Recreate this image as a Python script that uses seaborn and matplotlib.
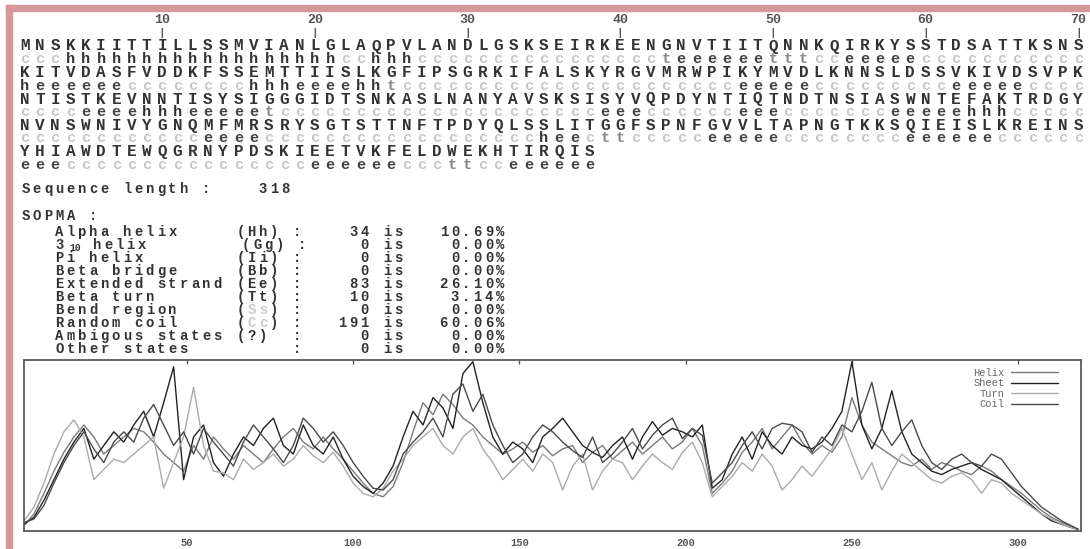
import matplotlib
matplotlib.use("Agg")
import numpy as np
import pandas as pd
import matplotlib.pyplot as plt
import seaborn as sns
from matplotlib.lines import Line2D
from matplotlib.patches import Rectangle

W, H = 1090, 549

# ---sequence and predicted states (SOPMA output)---
seq_rows = [
    "MNSKKIITTILLSSMVIANLGLAQPVLANDLGSKSEIRKEENGNVTIITQNNKQIRKYSSTDSATTKSNS",
    "KITVDASFVDDKFSSEMTTIISLKGFIPSGRKIFALSKYRGVMRWPIKYMVDLKNNSLDSSVKIVDSVPK",
    "NTISTKEVNNTISYSIGGGIDTSNKASLNANYAVSKSISYVQPDYNTIQTNDTNSIASWNTEFAKTRDGY",
    "NVNSWNIVYGNQMFMRSRYSGTSTTNFTPDYQLSSLITGGFSPNFGVVLTAPNGTKKSQIEISLKREINS",
    "YHIAWDTEWQGRNYPDSKIEETVKFELDWEKHTIRQIS",
]
# state runs per row: (state, length)
ss_runs = [
    [("c", 3), ("h", 18), ("c", 2), ("h", 3), ("c", 16), ("t", 1), ("e", 6), ("t", 3), ("c", 2), ("e", 5), ("c", 11)],
    [("h", 1), ("e", 6), ("c", 8), ("h", 3), ("e", 4), ("h", 2), ("t", 1), ("c", 22), ("e", 5), ("c", 9), ("e", 5), ("c", 4)],
    [("c", 4), ("e", 4), ("h", 3), ("e", 5), ("t", 1), ("c", 21), ("e", 3), ("c", 6), ("e", 3), ("c", 7), ("e", 5), ("h", 3), ("c", 5)],
    [("c", 12), ("e", 4), ("c", 18), ("h", 1), ("e", 2), ("c", 1), ("t", 2), ("c", 5), ("e", 5), ("c", 8), ("e", 6), ("c", 6)],
    [("e", 3), ("c", 16), ("e", 6), ("c", 3), ("t", 2), ("c", 2), ("e", 6)],
]
ruler_marks = [10, 20, 30, 40, 50, 60, 70]
seq_length = 318

ss_names = ["Alpha helix", "3_10 helix", "Pi helix", "Beta bridge", "Extended strand",
            "Beta turn", "Bend region", "Random coil", "Ambigous states", "Other states"]
ss_codes = ["(Hh)", "(Gg)", "(Ii)", "(Bb)", "(Ee)", "(Tt)", "(Ss)", "(Cc)", "(?)", ""]
ss_counts = [34, 0, 0, 0, 83, 10, 0, 191, 0, 0]
ss_pcts = ["10.69%", "0.00%", "0.00%", "0.00%", "26.10%", "3.14%", "0.00%", "60.06%", "0.00%", "0.00%"]

# ---score profiles, read every 3 residues---
residue = list(range(1, 317, 3)) + [318]
helix = [0.03, 0.10, 0.22, 0.35, 0.46, 0.55, 0.62, 0.55, 0.45, 0.50,
         0.55, 0.60, 0.58, 0.52, 0.45, 0.40, 0.35, 0.50, 0.42, 0.55,
         0.48, 0.42, 0.50, 0.45, 0.40, 0.48, 0.55, 0.60, 0.52, 0.48,
         0.55, 0.48, 0.42, 0.35, 0.28, 0.22, 0.20, 0.26, 0.40, 0.58,
         0.75, 0.68, 0.80, 0.74, 0.66, 0.62, 0.55, 0.50, 0.45, 0.48,
         0.52, 0.46, 0.50, 0.44, 0.48, 0.50, 0.40, 0.46, 0.50, 0.42,
         0.47, 0.52, 0.45, 0.50, 0.55, 0.48, 0.52, 0.60, 0.50, 0.22,
         0.28, 0.35, 0.46, 0.52, 0.60, 0.48, 0.55, 0.62, 0.52, 0.45,
         0.50, 0.46, 0.55, 0.78, 0.62, 0.52, 0.48, 0.44, 0.40, 0.38,
         0.42, 0.36, 0.40, 0.38, 0.35, 0.33, 0.38, 0.35, 0.30, 0.26,
         0.22, 0.17, 0.12, 0.08, 0.05, 0.03, 0.01]
sheet = [0.04, 0.08, 0.18, 0.30, 0.42, 0.52, 0.60, 0.42, 0.50, 0.58,
         0.52, 0.62, 0.70, 0.55, 0.75, 0.96, 0.30, 0.55, 0.62, 0.40,
         0.32, 0.45, 0.55, 0.50, 0.60, 0.66, 0.50, 0.45, 0.62, 0.50,
         0.45, 0.55, 0.42, 0.32, 0.26, 0.22, 0.28, 0.38, 0.55, 0.70,
         0.62, 0.78, 0.72, 0.60, 0.92, 0.99, 0.75, 0.55, 0.45, 0.52,
         0.48, 0.40, 0.55, 0.60, 0.66, 0.58, 0.50, 0.46, 0.43, 0.50,
         0.55, 0.42, 0.55, 0.64, 0.56, 0.60, 0.58, 0.55, 0.62, 0.25,
         0.30, 0.45, 0.55, 0.42, 0.58, 0.50, 0.45, 0.55, 0.50, 0.48,
         0.52, 0.60, 0.70, 0.99, 0.62, 0.48, 0.60, 0.82, 0.58, 0.45,
         0.40, 0.35, 0.33, 0.36, 0.38, 0.40, 0.36, 0.33, 0.30, 0.25,
         0.20, 0.15, 0.10, 0.06, 0.04, 0.02, 0.01]
turn = [0.06, 0.14, 0.28, 0.45, 0.58, 0.65, 0.55, 0.30, 0.36, 0.42,
        0.40, 0.45, 0.50, 0.55, 0.25, 0.40, 0.55, 0.84, 0.50, 0.35,
        0.34, 0.30, 0.42, 0.36, 0.40, 0.45, 0.38, 0.42, 0.50, 0.44,
        0.40, 0.46, 0.38, 0.28, 0.22, 0.20, 0.25, 0.35, 0.42, 0.50,
        0.55, 0.60, 0.50, 0.45, 0.55, 0.60, 0.48, 0.40, 0.30, 0.36,
        0.42, 0.35, 0.45, 0.40, 0.24, 0.38, 0.45, 0.24, 0.35, 0.42,
        0.40, 0.30, 0.38, 0.45, 0.40, 0.36, 0.46, 0.52, 0.40, 0.20,
        0.26, 0.32, 0.40, 0.35, 0.45, 0.38, 0.24, 0.30, 0.38, 0.32,
        0.40, 0.48, 0.60, 0.45, 0.30, 0.40, 0.24, 0.35, 0.45, 0.40,
        0.35, 0.30, 0.28, 0.32, 0.34, 0.30, 0.22, 0.30, 0.28, 0.22,
        0.18, 0.14, 0.10, 0.07, 0.04, 0.02, 0.01]
coil = [0.05, 0.07, 0.15, 0.28, 0.40, 0.50, 0.58, 0.48, 0.40, 0.52,
        0.58, 0.52, 0.66, 0.74, 0.62, 0.50, 0.58, 0.45, 0.60, 0.52,
        0.45, 0.38, 0.52, 0.62, 0.55, 0.48, 0.40, 0.50, 0.66, 0.60,
        0.52, 0.58, 0.50, 0.40, 0.32, 0.25, 0.24, 0.30, 0.45, 0.52,
        0.58, 0.66, 0.55, 0.80, 0.86, 0.70, 0.80, 0.62, 0.50, 0.40,
        0.45, 0.55, 0.62, 0.58, 0.52, 0.47, 0.43, 0.55, 0.40, 0.45,
        0.52, 0.60, 0.48, 0.56, 0.62, 0.66, 0.54, 0.60, 0.56, 0.28,
        0.34, 0.40, 0.50, 0.58, 0.48, 0.60, 0.63, 0.62, 0.58, 0.46,
        0.55, 0.50, 0.62, 0.58, 0.70, 0.87, 0.60, 0.50, 0.58, 0.65,
        0.50, 0.40, 0.36, 0.42, 0.45, 0.40, 0.38, 0.45, 0.42, 0.34,
        0.26, 0.20, 0.14, 0.10, 0.06, 0.03, 0.01]
states = ["Helix", "Sheet", "Turn", "Coil"]
state_colors = {"Helix": "#7a7a7a", "Sheet": "#222222", "Turn": "#ababab", "Coil": "#4a4a4a"}
ss_char_colors = {"h": "#333333", "e": "#444444", "t": "#8a8a8a", "c": "#c8c8c8"}
TEXT = "#333333"

sns.set_style("white")
plt.rcParams["font.family"] = ["Liberation Mono", "DejaVu Sans Mono"]

fig = plt.figure(figsize=(W / 100, H / 100), dpi=100)
fig.patch.set_facecolor("white")

# pink frame of the screenshot
fig.patches.append(Rectangle((6 / W, 0), 6 / W, 1 - 5 / H, transform=fig.transFigure, color="#d59797", zorder=0))
fig.patches.append(Rectangle((6 / W, 1 - 11 / H), 1 - 6 / W, 6 / H, transform=fig.transFigure, color="#d59797", zorder=0))


def put(text, x0, y, pitch, colors=None, **kw):
    # monospace text laid out one character per cell
    base = kw.pop("color", TEXT)
    for i, ch in enumerate(text):
        if ch == " ":
            continue
        c = colors[i] if colors is not None else base
        fig.text((x0 + (i + 0.5) * pitch) / W, 1 - y / H, ch, ha="center", va="center", color=c, **kw)


# ruler
SEQ_X0, SEQ_P = 17, 15.27
for m in ruler_marks:
    xc = SEQ_X0 + (m - 0.5) * SEQ_P
    fig.text(xc / W, 1 - 20 / H, str(m), ha="center", va="center", fontsize=9.5, fontweight="bold", color="#555555")
    fig.text(xc / W, 1 - 33 / H, "|", ha="center", va="center", fontsize=8, fontweight="bold", color="#555555")

# sequence rows with states
for r, (seq, runs) in enumerate(zip(seq_rows, ss_runs)):
    ss = "".join(s * n for s, n in runs)
    y = 46 + r * 26.5
    put(seq, SEQ_X0, y, SEQ_P, fontsize=11.5, fontweight="bold")
    put(ss, SEQ_X0, y + 13, SEQ_P, colors=[ss_char_colors[c] for c in ss], fontsize=11, fontweight="bold")

# summary table
TX0, TP = 20, 11.3
TF = dict(fontsize=10, fontweight="bold")
put("Sequence length :    {}".format(seq_length), TX0, 189, TP, **TF)
put("SOPMA :", TX0, 216, TP, **TF)
for i, (name, code, n, pct) in enumerate(zip(ss_names, ss_codes, ss_counts, ss_pcts)):
    y = 232 + i * 13
    tail = ":{:>6} is {:>8}".format(n, pct)
    if name == "3_10 helix":
        put("3", TX0 + 3 * TP, y, TP, **TF)
        fig.text((TX0 + 4.9 * TP) / W, 1 - (y + 3) / H, "10", ha="center", va="center",
                 fontsize=7, fontweight="bold", color=TEXT)
        put("helix", TX0 + 6.3 * TP, y, TP, **TF)
        put(code, TX0 + 19.5 * TP, y, TP, **TF)
        put(":", TX0 + 24.5 * TP, y, TP, **TF)
        put(tail[1:], TX0 + 25 * TP, y, TP, **TF)
        continue
    put(name, TX0 + 3 * TP, y, TP, **TF)
    if code:
        light = code in ("(Ss)", "(Cc)")
        cols = [TEXT if (ch in "()" or not light) else "#cccccc" for ch in code]
        put(code, TX0 + 19 * TP, y, TP, colors=cols, **TF)
    put(tail, TX0 + 24 * TP, y, TP, **TF)

# profile plot
ax = fig.add_axes([24 / W, 1 - 531 / H, 1057 / W, 171 / H])
df = pd.DataFrame({"residue": residue, "Helix": helix, "Sheet": sheet, "Turn": turn, "Coil": coil})
df = df.melt(id_vars="residue", var_name="state", value_name="score")
sns.lineplot(data=df, x="residue", y="score", hue="state", hue_order=states, palette=state_colors,
             estimator=None, linewidth=1.0, legend=False, ax=ax)
ax.set_xlim(1, 318.9)
ax.set_ylim(0, 1)
ax.set_xticks([50, 100, 150, 200, 250, 300])
ax.set_yticks([])
ax.set_xlabel("")
ax.set_ylabel("")
ax.tick_params(axis="x", direction="in", length=3, width=1, top=True, labeltop=False,
               labelsize=7.5, colors="#555555", pad=5)
for lab in ax.get_xticklabels():
    lab.set_fontweight("bold")
for s in ax.spines.values():
    s.set_color("#5a5a5a")
    s.set_linewidth(1.3)

handles = [Line2D([], [], color=state_colors[s], lw=1.0) for s in states]
leg = ax.legend(handles, states, loc="upper right", bbox_to_anchor=(0.983, 0.985), frameon=False,
                markerfirst=False, fontsize=7.5, handlelength=4.5, labelspacing=0.05, handletextpad=0.6,
                borderpad=0)
for t in leg.get_texts():
    t.set_color("#666666")

fig.savefig("out.png", dpi=100, facecolor="white")
